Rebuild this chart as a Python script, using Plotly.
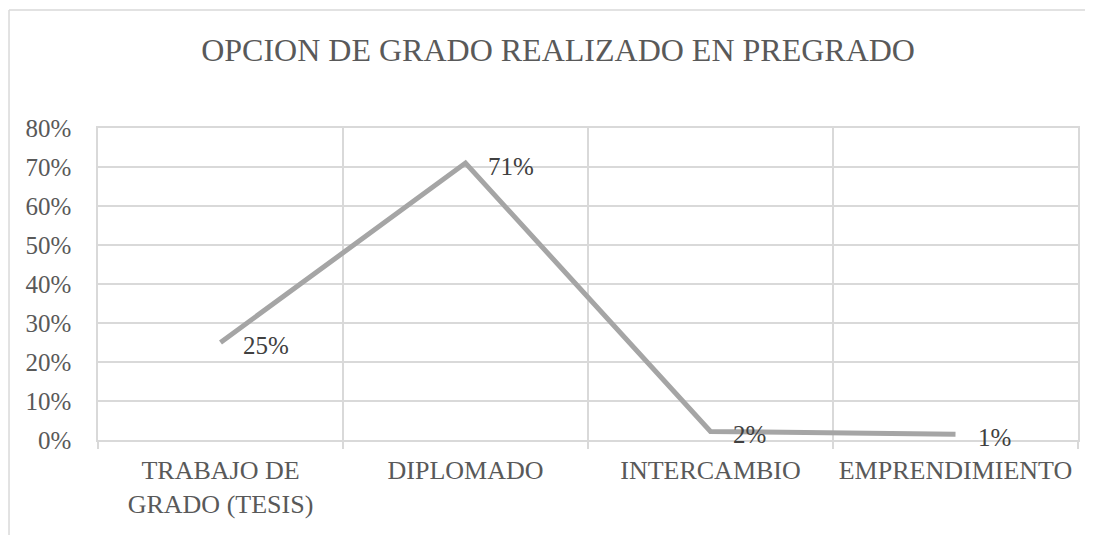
import plotly.graph_objects as go

categories = ["TRABAJO DE<br>GRADO (TESIS)", "DIPLOMADO", "INTERCAMBIO", "EMPRENDIMIENTO"]
values = [0.25, 0.71, 0.022, 0.015]
labels = ["25%", "71%", "2%", "1%"]
title_text = "OPCION DE GRADO REALIZADO EN PREGRADO"

FONT = "Liberation Serif, Times New Roman, serif"
GRID = "#d9d9d9"

fig = go.Figure()
fig.add_trace(go.Scatter(
    x=categories, y=values, mode="lines",
    line=dict(color="#a5a5a5", width=5),
    hoverinfo="skip", showlegend=False,
))

for c, v, t in zip(categories, values, labels):
    fig.add_annotation(x=c, y=v, text=t, showarrow=False,
                       xanchor="left", yanchor="middle", xshift=20, yshift=-3,
                       font=dict(family=FONT, size=25, color="#404040"))

# outer chart border (top and left edges visible)
fig.add_shape(type="line", xref="paper", yref="paper",
              x0=-0.0908, x1=1.03, y0=1.378, y1=1.378,
              line=dict(color=GRID, width=1.5))
fig.add_shape(type="line", xref="paper", yref="paper",
              x0=-0.0908, x1=-0.0908, y0=1.378, y1=-0.32,
              line=dict(color=GRID, width=1.5))

fig.update_layout(
    width=1085, height=527,
    margin=dict(l=90, r=15, t=120, b=95),
    paper_bgcolor="white", plot_bgcolor="white",
    font=dict(family=FONT, size=25, color="#595959"),
    title=dict(text=title_text, x=0.507, xanchor="center", xref="container",
               y=0.92, yanchor="middle", yref="container",
               font=dict(family=FONT, size=32, color="#595959")),
    xaxis=dict(type="category", range=[-0.5, 3.5], tickson="boundaries",
               showgrid=True, gridcolor=GRID, gridwidth=1.5,
               ticks="outside", ticklen=7, tickcolor=GRID, tickwidth=1.5,
               ticklabelstandoff=6,
               showline=True, linecolor=GRID, linewidth=1.5, mirror=True,
               tickfont=dict(family=FONT, size=26, color="#595959"),
               fixedrange=True),
    yaxis=dict(range=[0, 0.8], dtick=0.1, tickformat=".0%",
               showgrid=True, gridcolor=GRID, gridwidth=1.5,
               zeroline=False, ticks="", ticklabelstandoff=20,
               showline=True, linecolor=GRID, linewidth=1.5, mirror=True,
               tickfont=dict(family=FONT, size=25, color="#595959"),
               fixedrange=True),
)

fig.write_html("out.html")
